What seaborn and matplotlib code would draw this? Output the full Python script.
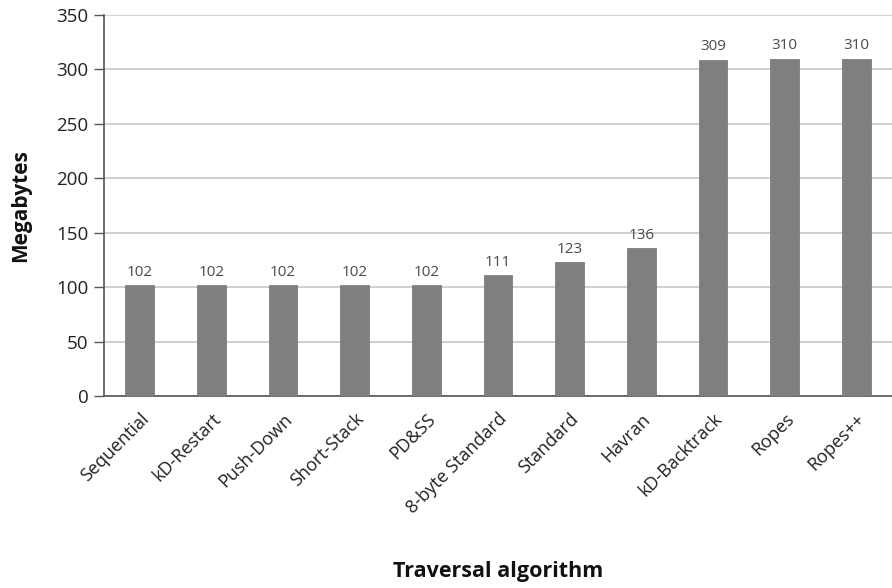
import matplotlib
matplotlib.use("Agg")
import matplotlib.pyplot as plt
import seaborn as sns
import pandas as pd
import numpy as np

categories = ["Sequential", "kD-Restart", "Push-Down", "Short-Stack", "PD&SS",
              "8-byte Standard", "Standard", "Havran", "kD-Backtrack", "Ropes", "Ropes++"]
values = [102, 102, 102, 102, 102, 111, 123, 136, 309, 310, 310]
yticks = [0, 50, 100, 150, 200, 250, 300, 350]

sns.set_theme(style="white")
plt.rcParams['font.family'] = ['Open Sans', 'DejaVu Sans']

df = pd.DataFrame({"cat": categories, "val": values})

fig = plt.figure(figsize=(8.92, 5.88), dpi=100)
ax = fig.add_axes([104/892, 1-396/588, 1-104/892, (396-15)/588])

sns.barplot(data=df, x="cat", y="val", color="#7f7f7f", width=0.4, saturation=1,
            ax=ax, zorder=3, edgecolor="#6f6f6f", linewidth=0.5)

ax.set_ylim(0, 350)
ax.set_xlim(-0.5, len(categories) - 0.5)
ax.set_yticks(yticks)
ax.set_yticklabels([str(t) for t in yticks], fontsize=13.5, color="#222222")
ax.yaxis.grid(True, color="#c8c8c8", linewidth=1.2, zorder=0)
ax.set_axisbelow(True)

ax.set_xticks(range(len(categories)))
ax.set_xticklabels(categories, rotation=45, ha="right", rotation_mode="anchor",
                   fontsize=13, color="#222222")
ax.tick_params(axis="x", which="major", length=0, pad=10)
ax.set_xticks(np.arange(-0.5, len(categories), 1.0), minor=True)
ax.tick_params(axis="x", which="minor", length=7, width=1, color="#555555", direction="out")
ax.tick_params(axis="y", length=7, width=1, color="#555555", direction="out", left=True, pad=4)

for s in ["top", "right"]:
    ax.spines[s].set_visible(False)
for s in ["left", "bottom"]:
    ax.spines[s].set_color("#555555")
    ax.spines[s].set_linewidth(1.2)

for i, v in enumerate(values):
    ax.text(i, v + 5, str(v), ha="center", va="bottom", fontsize=11, color="#4a4a4a")

ax.set_xlabel("")
ax.set_ylabel("Megabytes", fontsize=15, fontweight="bold", color="#111111", labelpad=18)
fig.text(0.5 + 104/892/2, 1-572/588, "Traversal algorithm", ha="center", va="center",
         fontsize=15.5, fontweight="bold", color="#111111")

fig.savefig("out.png", dpi=100)
